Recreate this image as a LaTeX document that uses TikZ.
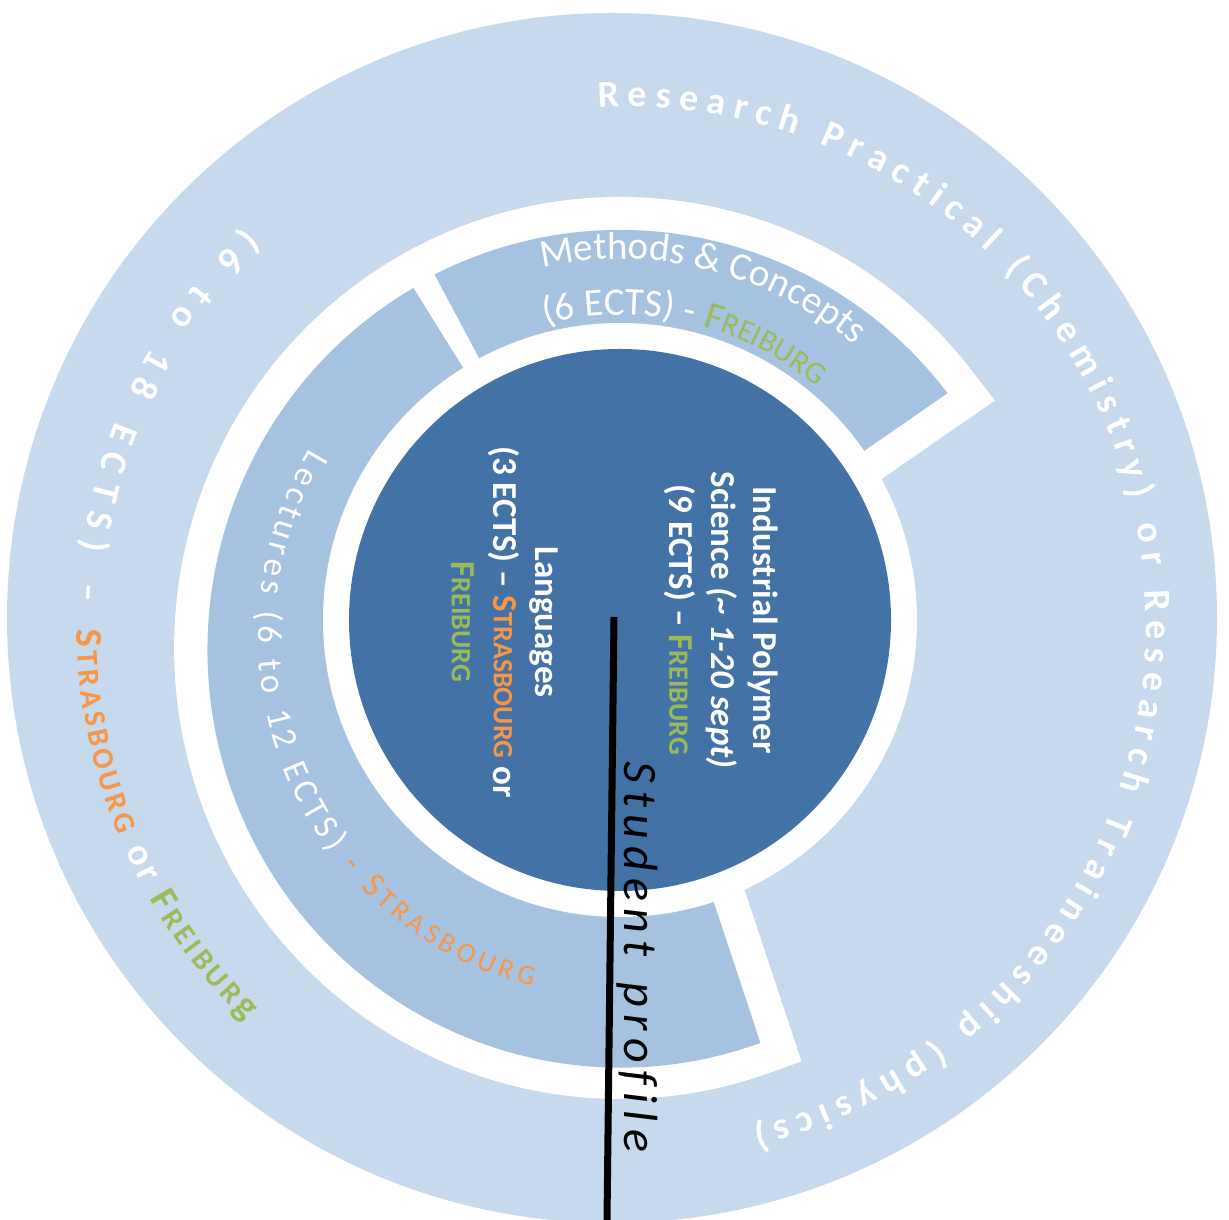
\documentclass[tikz,border=0pt]{standalone}
\usepackage{fontspec}
\setmainfont{Carlito}
\usetikzlibrary{decorations.text}
\definecolor{outerC}{HTML}{C6D9ED}
\definecolor{midC}{HTML}{A6C2E1}
\definecolor{darkC}{HTML}{4272A6}
\definecolor{orgC}{HTML}{F79646}
\definecolor{grnC}{HTML}{9BBB59}
\colorlet{cW}{white}\colorlet{cO}{orgC}\colorlet{cG}{grnC}
% combined white band (both segments + gap)
\newcommand\bandPath{(825.5,742.3) -- (947.5,826.8) arc[start angle=37.55, end angle=289.8, x radius=413, y radius=418] -- (698.9,362.8) arc[start angle=288.4, end angle=34.7, radius=250] -- cycle}
\newcommand\methodsPath{(825.5,742.3) -- (947.5,826.8) arc[start angle=37.55, end angle=116.7, x radius=413, y radius=418] -- (501.5,820.1) arc[start angle=118.3, end angle=34.7, radius=250] -- cycle}
\newcommand\lecturesPath{(487.9,812.3) -- (413.4,932.0) arc[start angle=120.1, end angle=289.8, x radius=413, y radius=418] -- (698.9,362.8) arc[start angle=288.4, end angle=121.9, radius=250] -- cycle}
\tikzset{
  gapline/.style={fill=white, draw=white, line width=66, line join=miter},
  segfill/.style={fill=midC},
  curved/.style 2 args={decorate, decoration={text along path, text align={#1}, text={#2}}},
  ctr/.style={rotate=-90, align=center, text=white, inner sep=0,
    font=\bfseries\fontsize{35}{42}\selectfont}
}
\begin{document}
\begin{tikzpicture}[x=1pt,y=1pt]
\useasboundingbox (0,0) rectangle (1229,1220);
\fill[white] (0,0) rectangle (1229,1220);
\coordinate (C) at (620,600);
\coordinate (TC) at (628,595);
\coordinate (LC) at (620,585);
% rings
\fill[outerC] (612,602) circle[radius=605];
\path[gapline] \bandPath;
\path[segfill] \methodsPath;
\path[segfill] \lecturesPath;
\fill[white] (C) circle[radius=297];
\node[circle, fill=darkC, minimum size=542, inner sep=0] (core) at (C) {};
% outer ring texts
\path[curved={fit to path}{|\color{cW}\bfseries\fontsize{38}{40}\selectfont|Research Practical (Chemistry) or Research Traineeship (physics)}]
  ([shift={(93.3:518)}]TC) arc[start angle=93.3, end angle=-76, radius=518];
\path[curved={fit to path}{|\color{cW}\bfseries\fontsize{38}{40}\selectfont|(6 to 18 ECTS) –}]
  ([shift={(134:551)}]TC) arc[start angle=134, end angle=177.5, radius=551];
\path[curved={fit to path}{|\color{cO}\bfseries\fontsize{38}{40}\selectfont|S|\color{cO}\bfseries\fontsize{30}{40}\selectfont|TRASBOURG|\color{cW}\bfseries\fontsize{38}{40}\selectfont| or |\color{cG}\bfseries\fontsize{38}{40}\selectfont|F|\color{cG}\bfseries\fontsize{30}{40}\selectfont|REIBUR|\color{cG}\bfseries\fontsize{38}{40}\selectfont|g}]
  ([shift={(180.5:551)}]TC) arc[start angle=180.5, end angle=226, radius=551];
% lectures
\path[curved={fit to path}{|\color{cW}\fontsize{35}{40}\selectfont|Lectures (6 to 12 ECTS) |\color{cO}\fontsize{35}{40}\selectfont|- S|\color{cO}\fontsize{28}{40}\selectfont|TRASBOURG}]
  ([shift={(149:362)}]LC) arc[start angle=149, end angle=256, radius=362];
% methods
\path[curved={center}{|\color{cW}\fontsize{39}{40}\selectfont|Methods {\&} Concepts}]
  ([shift={(120:361)}]C) arc[start angle=120, end angle=32, radius=361];
\path[curved={center}{|\color{cW}\fontsize{39}{40}\selectfont|(6 ECTS) - |\color{cG}\fontsize{39}{40}\selectfont|F|\color{cG}\fontsize{31}{40}\selectfont|REIBURG}]
  ([shift={(122:305)}]C) arc[start angle=122, end angle=32, radius=305];
% centre texts
\node[ctr] (ips) at (721,600) {Industrial Polymer\\Science \textit{(\textasciitilde{} 1-20 sept)}\\(9 ECTS) – \textcolor{grnC}{F{\fontsize{28}{42}\selectfont REIBURG}}};
\node[ctr] (lang) at (505,598) {Languages\\(3 ECTS) – \textcolor{orgC}{S{\fontsize{28}{42}\selectfont TRASBOURG}} or\\\textcolor{grnC}{F{\fontsize{28}{42}\selectfont REIBURG}}};
% student profile line
\coordinate (spTop) at (614,603);
\coordinate (spBot) at (607,0);
\coordinate (spA) at (624,458);
\coordinate (spB) at (624,68);
\draw[line width=7] (spTop) -- (spBot);
\path[curved={fit to path}{|\color{black}\itshape\fontsize{48}{50}\selectfont|Student profile}] (spA) -- (spB);
\end{tikzpicture}
\end{document}
